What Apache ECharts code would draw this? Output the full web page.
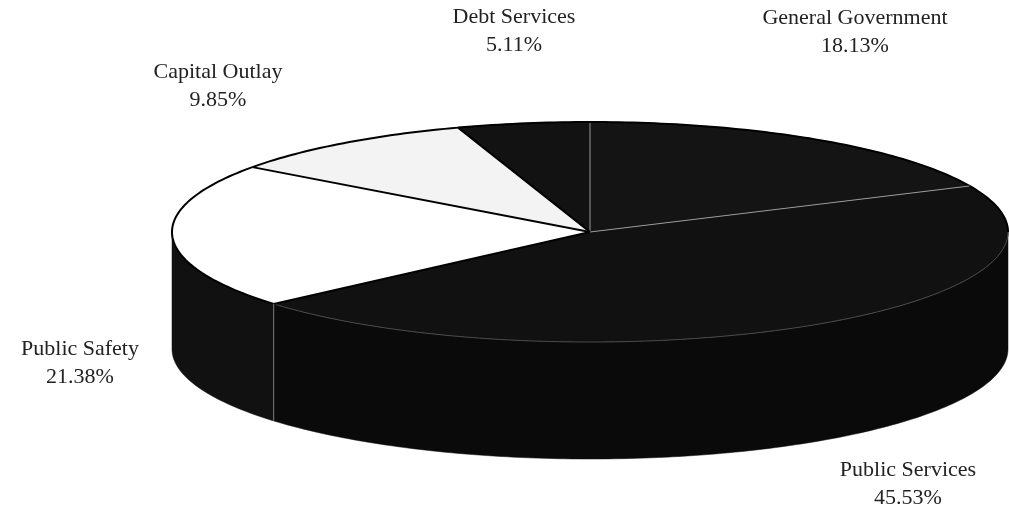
<!DOCTYPE html>
<html>
<head>
<meta charset="utf-8">
<script src="https://cdn.jsdelivr.net/npm/echarts@6/dist/echarts.min.js"></script>
<style>
  html, body { margin: 0; padding: 0; background: #ffffff; }
  #chart { width: 1009px; height: 516px; }
</style>
</head>
<body>
<div id="chart"></div>
<script>
// ---- data ----
const categories = ['General Government', 'Public Services', 'Public Safety', 'Capital Outlay', 'Debt Services'];
const values = [18.13, 45.53, 21.38, 9.85, 5.11];

// ---- styles / layout (kept separate from data) ----
const topColors = ['#141414', '#111111', '#ffffff', '#f3f3f3', '#121212'];
const sideColors = ['#0a0a0a', '#0a0a0a', '#111111', '#111111', '#0a0a0a'];
const isDark = [true, true, false, false, true];
const labelPos = [ [855, 32], [908, 484], [80, 363], [218, 86], [514, 31] ];
const geo = { cx: 590, cy: 232, rx: 418, ry: 110, depth: 117 };

const total = values.reduce((a, b) => a + b, 0);
const cum = [];
values.reduce((acc, v, i) => { cum[i] = acc; return acc + v; }, 0);

function proj(t, dy) {
  return [geo.cx + geo.rx * Math.sin(t), geo.cy - geo.ry * Math.cos(t) + (dy || 0)];
}
function arcPts(a, b, dy) {
  const pts = [];
  const n = Math.max(2, Math.ceil((b - a) / (Math.PI / 180)));
  for (let k = 0; k <= n; k++) pts.push(proj(a + (b - a) * k / n, dy));
  return pts;
}

function renderItem(params, api) {
  const i = params.dataIndex;
  const v = api.value(0);
  const a = cum[i] / total * 2 * Math.PI;
  const b = a + v / total * 2 * Math.PI;
  const children = [];
  // side wall (front-facing part: angle between 90 and 270 deg)
  const fa = Math.max(a, Math.PI / 2), fb = Math.min(b, Math.PI * 1.5);
  if (fb > fa) {
    const topArc = arcPts(fa, fb, 0);
    const botArc = arcPts(fa, fb, geo.depth).reverse();
    children.push({
      type: 'polygon', z2: 1,
      shape: { points: topArc.concat(botArc) },
      style: { fill: sideColors[i], stroke: sideColors[i], lineWidth: 0.5 }
    });
    if (a > Math.PI / 2 && a < Math.PI * 1.5) {
      const p = proj(a, 0);
      children.push({ type: 'line', z2: 4,
        shape: { x1: p[0], y1: p[1], x2: p[0], y2: p[1] + geo.depth },
        style: { stroke: '#7a7a7a', lineWidth: 1 } });
    }
  }
  // top face
  const rim = arcPts(a, b, 0);
  children.push({
    type: 'polygon', z2: 2,
    shape: { points: [[geo.cx, geo.cy]].concat(rim) },
    style: { fill: topColors[i], stroke: topColors[i], lineWidth: 0.5 }
  });
  // radial boundary line at start angle
  const prev = (i - 1 + values.length) % values.length;
  const ps = proj(a, 0);
  const soft = isDark[i] && isDark[prev];
  children.push({
    type: 'line', z2: 3,
    shape: { x1: geo.cx, y1: geo.cy, x2: ps[0], y2: ps[1] },
    style: { stroke: soft ? '#9a9a9a' : '#000000', lineWidth: soft ? 1 : 2 }
  });
  // rim: back part black, front part subtle gray for dark slices
  const backSegs = [[a, Math.min(b, Math.PI / 2)], [Math.max(a, Math.PI * 1.5), b]];
  backSegs.forEach(s => {
    if (s[1] > s[0]) children.push({ type: 'polyline', z2: 3,
      shape: { points: arcPts(s[0], s[1], 0) },
      style: { stroke: '#000000', lineWidth: 2, fill: null } });
  });
  if (fb > fa) {
    children.push({ type: 'polyline', z2: 3,
      shape: { points: arcPts(fa, fb, 0) },
      style: { stroke: isDark[i] ? '#4a4a4a' : '#000000', lineWidth: isDark[i] ? 1 : 2, fill: null } });
  }
  return { type: 'group', children: children };
}

const chart = echarts.init(document.getElementById('chart'), null, { renderer: 'canvas' });
const labelFont = '22px "Liberation Serif", "Times New Roman", serif';
chart.setOption({
  backgroundColor: '#ffffff',
  animation: false,
  series: [{
    type: 'custom',
    coordinateSystem: 'none',
    renderItem: renderItem,
    data: values.map((v, i) => ({ name: categories[i], value: [v] }))
  }],
  graphic: categories.map((c, i) => ({
    type: 'text',
    x: labelPos[i][0], y: labelPos[i][1],
    z: 10,
    style: {
      text: c + '\n' + values[i].toFixed(2) + '%',
      font: labelFont,
      fill: '#222222',
      align: 'center',
      verticalAlign: 'middle',
      lineHeight: 28
    }
  }))
});
</script>
</body>
</html>
